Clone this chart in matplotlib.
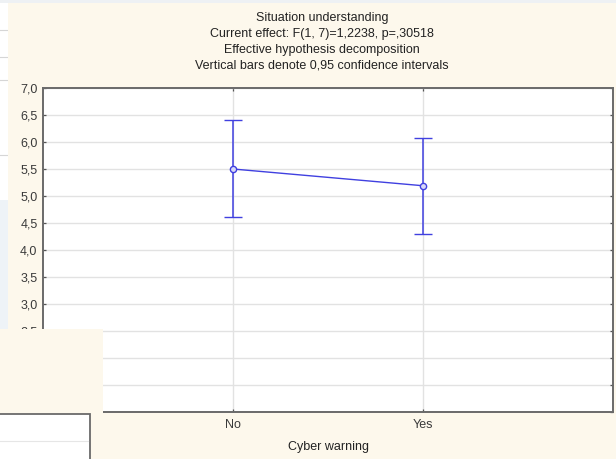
import matplotlib.pyplot as plt
from matplotlib.patches import Rectangle

# Group means with 95% confidence limits
groups = ["No", "Yes"]
means = [5.50, 5.19]
ci_low = [4.61, 4.30]
ci_high = [6.40, 6.07]

title_lines = [
    "Situation understanding",
    "Current effect: F(1, 7)=1,2238, p=,30518",
    "Effective hypothesis decomposition",
    "Vertical bars denote 0,95 confidence intervals",
]
y_ticks = [1.0, 1.5, 2.0, 2.5, 3.0, 3.5, 4.0, 4.5, 5.0, 5.5, 6.0, 6.5, 7.0]

CREAM = "#fdf8ec"
BLUE = "#4040e0"

plt.rcParams["font.family"] = ["Liberation Sans", "DejaVu Sans"]

W, H = 616, 459
fig = plt.figure(figsize=(W / 100, H / 100), dpi=100, facecolor="white")


def box(x0, y0, x1, y1, **kw):
    # rectangle in pixel coordinates measured from the top-left corner
    fig.patches.append(Rectangle((x0 / W, 1 - y1 / H), (x1 - x0) / W, (y1 - y0) / H,
                                 transform=fig.transFigure, figure=fig, **kw))


def hline(x0, x1, yy, color, z):
    fig.add_artist(plt.Line2D([x0 / W, x1 / W], [1 - yy / H] * 2, color=color, lw=0.8,
                              transform=fig.transFigure, zorder=z))


# window background behind the graph panel
box(0, 0, W, 3, facecolor="#eef1f4", edgecolor="none", zorder=-3)
box(0, 200, 8, 330, facecolor="#eef3f7", edgecolor="none", zorder=-3)
for yy in (30, 57, 80, 155):
    hline(0, 8, yy, "#d6d6d6", -3)
box(8, 3, W, H, facecolor=CREAM, edgecolor="none", zorder=-2)

ax = fig.add_axes([43 / W, 1 - 412 / H, 570 / W, 324 / H])
ax.set_zorder(1)
ax.set_facecolor("white")

x = [1, 2]
yerr = [[m - lo for m, lo in zip(means, ci_low)],
        [hi - m for m, hi in zip(means, ci_high)]]
ax.errorbar(x, means, yerr=yerr, color=BLUE, lw=1.0, elinewidth=1.1,
            capsize=6.5, capthick=1.1, marker="o", ms=4.5,
            mfc="#d8d8f8", mec=BLUE, mew=1.0, zorder=3)

ax.set_xlim(0, 3)
ax.set_ylim(1.0, 7.0)
ax.set_xticks(x)
ax.set_xticklabels(groups)
ax.set_yticks(y_ticks)
ax.set_yticklabels([f"{t:.1f}".replace(".", ",") for t in y_ticks])
ax.grid(True, color="#e2e2e2", lw=1.0)
ax.set_axisbelow(True)
for s in ax.spines.values():
    s.set_color("#6a6a6a")
    s.set_linewidth(1.4)
ax.tick_params(axis="both", direction="in", length=2.5, width=0.9, color="#555555",
               labelsize=9, labelcolor="#3a3a3a", top=True, right=True)
ax.tick_params(axis="x", pad=5)
ax.tick_params(axis="y", pad=4)
for lab in ax.get_xticklabels() + ax.get_yticklabels():
    lab.set_fontweight("medium")
ax.set_xlabel("Cyber warning", fontsize=9, color="#222222", labelpad=7)

for i, line in enumerate(title_lines):
    fig.text(322 / W, 1 - (18.5 + 15.6 * i) / H, line, ha="center", va="center",
             fontsize=9, color="#222222")

# overlapping panels in the lower-left corner
box(0, 329, 103, 411, facecolor=CREAM, edgecolor="none", zorder=5)
box(0, 411, 103, H, facecolor=CREAM, edgecolor="none", zorder=5)
box(-5, 414, 90, H + 5, facecolor="white", edgecolor="#6a6a6a", lw=1.3, zorder=6)
hline(0, 88, 441, "#e6e6e6", 7)

fig.savefig("out.png", dpi=100)
